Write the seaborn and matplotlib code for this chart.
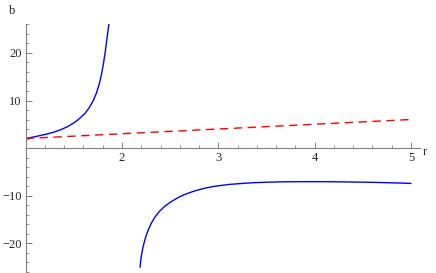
import numpy as np
import pandas as pd
import matplotlib
matplotlib.use("Agg")
import matplotlib.pyplot as plt
import seaborn as sns
from matplotlib.ticker import FixedLocator, MultipleLocator

# values
r_upper = [1.0, 1.1, 1.2, 1.287, 1.356, 1.43, 1.494, 1.55, 1.616, 1.66, 1.702, 1.735, 1.764, 1.787,
           1.806, 1.825, 1.841, 1.854, 1.866]
b_upper = [2.0, 2.4, 2.85, 3.3, 3.8, 4.45, 5.2, 6.05, 7.3, 8.5, 10.0, 11.6, 13.5, 15.5,
           17.6, 20.1, 22.6, 24.6, 26.4]

r_lower = [2.187, 2.195, 2.205, 2.221, 2.245, 2.273, 2.305, 2.343, 2.39, 2.447, 2.51, 2.585, 2.66, 2.751,
           2.85, 2.948, 3.018, 3.12, 3.25, 3.363, 3.5, 3.71, 3.9, 4.056, 4.2, 4.4, 4.6, 4.75, 4.9, 5.0]
b_lower = [-25.1, -23.6, -22.2, -20.6, -18.8, -17.2, -15.8, -14.5, -13.3, -12.2, -11.3, -10.4, -9.7, -9.05,
           -8.5, -8.1, -7.9, -7.65, -7.45, -7.3, -7.2, -7.1, -7.08, -7.08, -7.1, -7.16, -7.22, -7.3, -7.38, -7.45]

r_line = [1.0, 5.0]
b_line = [2.0, 6.0]

sns.set_style("white")
plt.rcParams["font.family"] = ["Liberation Serif", "DejaVu Serif"]

fig = plt.figure(figsize=(4.36, 2.73), dpi=100)
ax = fig.add_axes([25.7 / 436, 0.0, 394.3 / 436, 249 / 273])

sns.lineplot(x=r_upper, y=b_upper, color="#0000ff", linewidth=1.0, ax=ax)
sns.lineplot(x=r_lower, y=b_lower, color="#0000ff", linewidth=1.0, ax=ax)
sns.lineplot(x=r_line, y=b_line, color="#ff0000", linewidth=1.0, ax=ax,
             linestyle=(0, (6, 4)))

ax.set_xlim(1.0, 5.094)
ax.set_ylim(-26.3, 26.1)

# Mathematica-like axes crossing at (1, 0)
ax.spines["top"].set_visible(False)
ax.spines["right"].set_visible(False)
ax.spines["bottom"].set_position(("data", 0))
ax.spines["left"].set_position(("data", 1.0))
for s in ["bottom", "left"]:
    ax.spines[s].set_color("#808080")
    ax.spines[s].set_linewidth(0.8)

ax.xaxis.set_major_locator(FixedLocator([2, 3, 4, 5]))
ax.xaxis.set_minor_locator(MultipleLocator(0.2))
ax.yaxis.set_major_locator(FixedLocator([-20, -10, 10, 20]))
ax.yaxis.set_minor_locator(MultipleLocator(2))
ax.tick_params(which="major", direction="in", length=4, width=0.7, color="#808080",
               labelsize=9, pad=3)
ax.tick_params(which="minor", direction="in", length=2, width=0.6, color="#808080")
ax.tick_params(axis="y", which="both", left=True)
ax.tick_params(axis="x", which="both", bottom=True)

ax.set_xlabel("r", fontsize=9)
ax.xaxis.set_label_coords(1.013, 0.51)
ax.set_ylabel("b", fontsize=9, rotation=0)
ax.yaxis.set_label_coords(-0.035, 1.03)

fig.savefig("out.png", dpi=100)
